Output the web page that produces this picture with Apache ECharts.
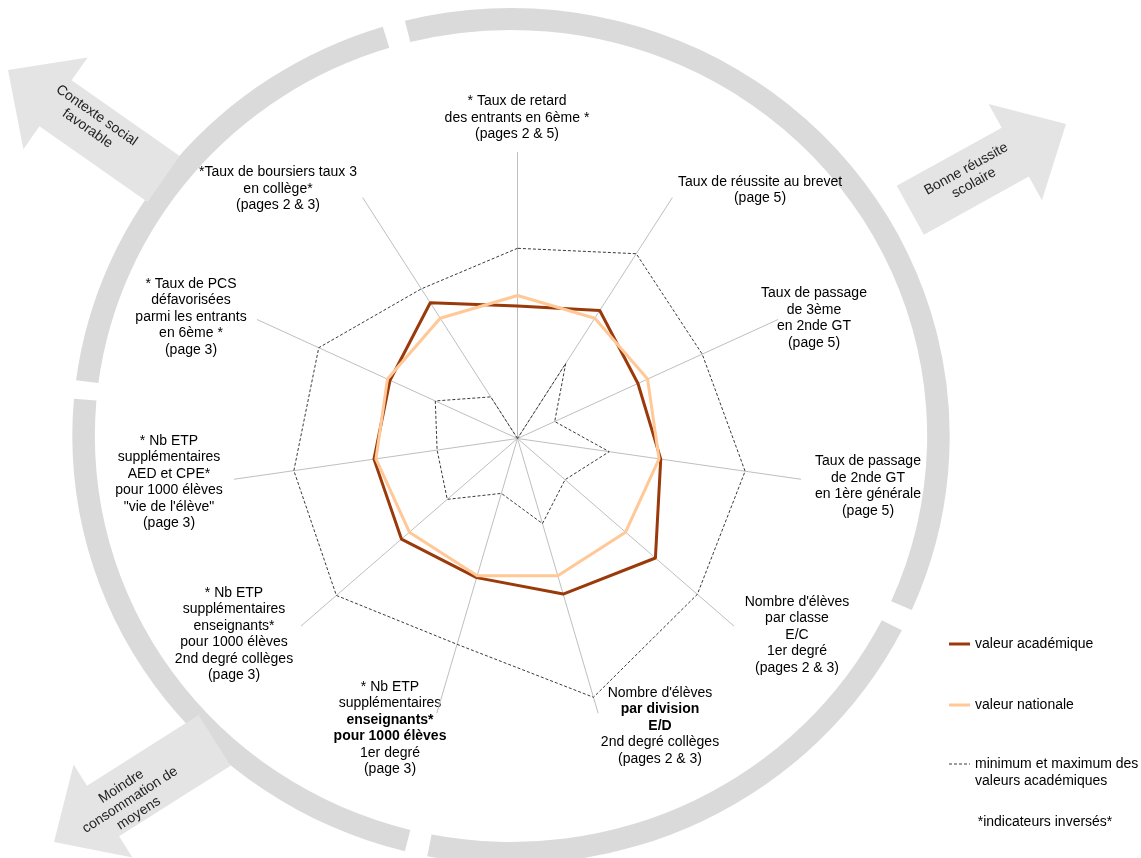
<!DOCTYPE html>
<html>
<head>
<meta charset="utf-8">
<script src="https://cdn.jsdelivr.net/npm/echarts@6/dist/echarts.min.js"></script>
<style>
  html, body { margin: 0; padding: 0; background: #fff; }
  #chart { width: 1141px; height: 858px; }
</style>
</head>
<body>
<div id="chart"></div>
<script>
// indicators, counter-clockwise from the top
const indicatorNames = [
  "* Taux de retard des entrants en 6ème *",
  "*Taux de boursiers taux 3 en collège*",
  "* Taux de PCS défavorisées parmi les entrants en 6ème *",
  "* Nb ETP supplémentaires AED et CPE* pour 1000 élèves \"vie de l'élève\"",
  "* Nb ETP supplémentaires enseignants* pour 1000 élèves 2nd degré collèges",
  "* Nb ETP supplémentaires enseignants* pour 1000 élèves 1er degré",
  "Nombre d'élèves par division E/D 2nd degré collèges",
  "Nombre d'élèves par classe E/C 1er degré",
  "Taux de passage de 2nde GT en 1ère générale",
  "Taux de passage de 3ème en 2nde GT",
  "Taux de réussite au brevet"
]
const labelTexts = [
  "{n|* Taux de retard}\n{n|des entrants en 6ème *}\n{n|(pages 2 & 5)}",
  "{n|*Taux de boursiers taux 3}\n{n|en collège*}\n{n|(pages 2 & 3)}",
  "{n|* Taux de PCS}\n{n|défavorisées}\n{n|parmi les entrants}\n{n|en 6ème *}\n{n|(page 3)}",
  "{n|* Nb ETP}\n{n|supplémentaires}\n{n|AED et CPE*}\n{n|pour 1000 élèves}\n{n|\"vie de l'élève\"}\n{n|(page 3)}",
  "{n|* Nb ETP}\n{n|supplémentaires}\n{n|enseignants*}\n{n|pour 1000 élèves}\n{n|2nd degré collèges}\n{n|(page 3)}",
  "{n|* Nb ETP}\n{n|supplémentaires}\n{b|enseignants*}\n{b|pour 1000 élèves}\n{n|1er degré}\n{n|(page 3)}",
  "{n|Nombre d'élèves}\n{b|par division}\n{b|E/D}\n{n|2nd degré collèges}\n{n|(pages 2 & 3)}",
  "{n|Nombre d'élèves}\n{n|par classe}\n{n|E/C}\n{n|1er degré}\n{n|(pages 2 & 3)}",
  "{n|Taux de passage}\n{n|de 2nde GT}\n{n|en 1ère générale}\n{n|(page 5)}",
  "{n|Taux de passage}\n{n|de 3ème}\n{n|en 2nde GT}\n{n|(page 5)}",
  "{n|Taux de réussite au brevet}\n{n|(page 5)}"
]
const seriesNames = ["valeur académique", "valeur nationale", "minimum et maximum des\nvaleurs académiques"]
const academique = [46.3, 56.4, 49.0, 50.7, 53.7, 50.7, 56.7, 63.8, 50.6, 46.3, 53.2]
const nationale = [50, 50, 50, 50, 50, 50, 50, 50, 50, 50, 50]
const maximum = [66.5, 62.2, 76.4, 79.0, 83.8, 75.0, 94.3, 83.2, 80.4, 71.0, 76.8]
const minimum = [0, 17.3, 31.6, 28.4, 32.5, 20.0, 31.0, 22.0, 32.4, 14.3, 31.2]
const arrowTexts = ["Contexte social\nfavorable", "Bonne réussite\nscolaire", "Moindre\nconsommation de\nmoyens"]
const noteText = "*indicateurs inversés*"

// label placement (centre of each text block)
const labelPos = [
  [517, 118], [278, 189], [191, 317], [169, 482], [234, 634], [390, 728],
  [660, 726], [797, 635], [868, 486], [814, 318], [760, 190]
]

const FONT = "Liberation Sans, Arial, sans-serif"
const DARK = "#9a3a0a"
const LIGHT = "#ffc896"
const DASH = "#3a3a3a"
const RING = "#dadada"
const ARROW = "#e4e4e4"

function arrowShape(tx, ty, angDeg, len, shaftW, headW, headL) {
  const a = angDeg * Math.PI / 180
  const ux = Math.cos(a), uy = Math.sin(a)
  const nx = -uy, ny = ux
  const bx = tx - ux * headL, by = ty - uy * headL
  const ex = tx - ux * len, ey = ty - uy * len
  return [
    [tx, ty],
    [bx + nx * headW / 2, by + ny * headW / 2],
    [bx + nx * shaftW / 2, by + ny * shaftW / 2],
    [ex + nx * shaftW / 2, ey + ny * shaftW / 2],
    [ex - nx * shaftW / 2, ey - ny * shaftW / 2],
    [bx - nx * shaftW / 2, by - ny * shaftW / 2],
    [bx - nx * headW / 2, by - ny * headW / 2]
  ]
}

// the grey ring is slightly wider than tall
function ringPiece(fromDeg, toDeg) {
  return {
    type: "sector",
    x: 511, y: 436, scaleX: 1.025,
    shape: { cx: 0, cy: 0, r0: 406, r: 428, startAngle: fromDeg * Math.PI / 180, endAngle: toDeg * Math.PI / 180 },
    style: { fill: RING },
    silent: true
  }
}

const graphics = [
  ringPiece(-104, 24),
  ringPiece(27, 101),
  ringPiece(104, 185),
  ringPiece(187.5, 253),
  { type: "polygon", shape: { points: arrowShape(8, 70, 215, 190, 56, 112, 58) }, style: { fill: ARROW }, silent: true },
  { type: "polygon", shape: { points: arrowShape(1066, 124, -29, 178, 56, 110, 58) }, style: { fill: ARROW }, silent: true },
  { type: "polygon", shape: { points: arrowShape(54, 842, 147.7, 190, 60, 110, 58) }, style: { fill: ARROW }, silent: true },
  { type: "text", x: 92, y: 122, rotation: -35 * Math.PI / 180, silent: true,
    style: { text: arrowTexts[0], align: "center", verticalAlign: "middle", font: "14px " + FONT, lineHeight: 16, fill: "#222" } },
  { type: "text", x: 970, y: 176, rotation: 29 * Math.PI / 180, silent: true,
    style: { text: arrowTexts[1], align: "center", verticalAlign: "middle", font: "14px " + FONT, lineHeight: 16, fill: "#222" } },
  { type: "text", x: 130, y: 800, rotation: 33 * Math.PI / 180, silent: true,
    style: { text: arrowTexts[2], align: "center", verticalAlign: "middle", font: "14px " + FONT, lineHeight: 16, fill: "#222" } },
  { type: "text", x: 1045, y: 822, silent: true,
    style: { text: noteText, align: "center", verticalAlign: "middle", font: "14px " + FONT, fill: "#000" } }
]

labelTexts.forEach((t, i) => {
  graphics.push({
    type: "text", x: labelPos[i][0], y: labelPos[i][1], silent: true,
    style: {
      text: t, align: "center", verticalAlign: "middle", fill: "#000",
      rich: {
        n: { fontFamily: FONT, fontSize: 14, lineHeight: 16.5, align: "center", color: "#000" },
        b: { fontFamily: FONT, fontSize: 14, lineHeight: 16.5, align: "center", fontWeight: "bold", color: "#000" }
      }
    }
  })
})

const chart = echarts.init(document.getElementById("chart"), null, { renderer: "canvas" })
chart.setOption({
  animation: false,
  backgroundColor: "#fff",
  legend: {
    orient: "vertical",
    left: 949,
    top: 634,
    padding: 0,
    itemWidth: 21,
    itemHeight: 20,
    itemGap: 41,
    selectedMode: false,
    textStyle: { fontFamily: FONT, fontSize: 14, color: "#000", lineHeight: 17 },
    itemStyle: { borderWidth: 0 },
    data: [
      { name: seriesNames[0], icon: "path://M0,0 M0,8.5h21v3h-21z M21,20" },
      { name: seriesNames[1], icon: "path://M0,0 M0,8.5h21v3h-21z M21,20" },
      { name: seriesNames[2], icon: "path://M0,1h3v1h-3z M5,1h3v1h-3z M10,1h3v1h-3z M15,1h3v1h-3z M20,1h1v1h-1z M21,20" }
    ]
  },
  radar: {
    center: [517.5, 438.5],
    radius: 286,
    startAngle: 90,
    splitNumber: 1,
    shape: "polygon",
    indicator: indicatorNames.map(n => ({ name: n, min: 0, max: 100 })),
    axisName: { show: false },
    axisLine: { lineStyle: { color: "#bfbfbf", width: 1 } },
    splitLine: { show: false },
    splitArea: { show: false }
  },
  graphic: graphics,
  series: [{
    type: "radar",
    symbol: "none",
    silent: true,
    emphasis: { disabled: true },
    data: [
      { name: seriesNames[2], value: maximum, itemStyle: { color: DASH }, lineStyle: { color: DASH, width: 1, type: [3, 2] } },
      { name: seriesNames[2], value: minimum, itemStyle: { color: DASH }, lineStyle: { color: DASH, width: 1, type: [3, 2] } },
      { name: seriesNames[0], value: academique, itemStyle: { color: DARK }, lineStyle: { color: DARK, width: 3 } },
      { name: seriesNames[1], value: nationale, itemStyle: { color: LIGHT }, lineStyle: { color: LIGHT, width: 3 } }
    ]
  }]
})
</script>
</body>
</html>
